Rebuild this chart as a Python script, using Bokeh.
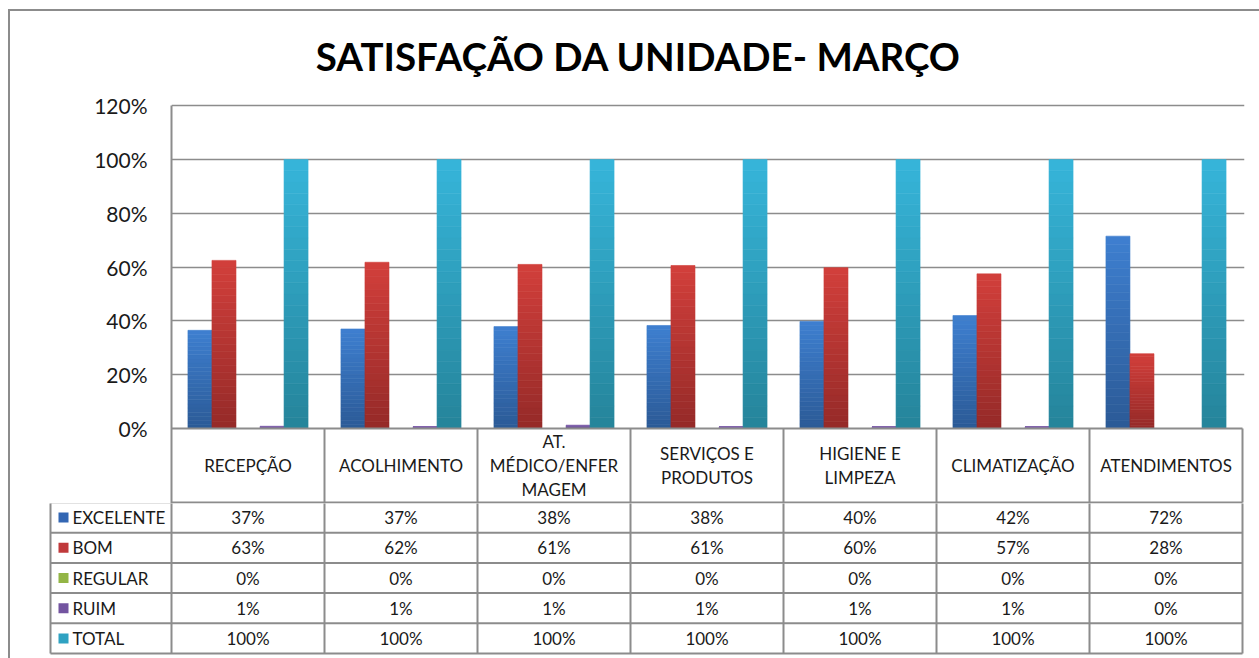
from bokeh.plotting import figure
from bokeh.layouts import column
from bokeh.models import Range1d, FixedTicker, NumeralTickFormatter, ColumnDataSource
from bokeh.embed import file_html
from bokeh.resources import INLINE
from bokeh.core.properties import value

# ---------------- data ----------------
title_text = "SATISFAÇÃO DA UNIDADE- MARÇO"
category_labels = ["RECEPÇÃO", "ACOLHIMENTO", "AT.\nMÉDICO/ENFER\nMAGEM", "SERVIÇOS E\nPRODUTOS",
                   "HIGIENE E\nLIMPEZA", "CLIMATIZAÇÃO", "ATENDIMENTOS"]
series_names = ["EXCELENTE", "BOM", "REGULAR", "RUIM", "TOTAL"]
excelente = [0.365, 0.370, 0.379, 0.383, 0.398, 0.420, 0.715]
bom = [0.625, 0.618, 0.610, 0.606, 0.598, 0.575, 0.278]
regular = [0.0, 0.0, 0.0, 0.0, 0.0, 0.0, 0.0]
ruim = [0.008, 0.007, 0.012, 0.006, 0.006, 0.006, 0.0]
total = [1.0, 1.0, 1.0, 1.0, 1.0, 1.0, 1.0]
table_excelente = ["37%", "37%", "38%", "38%", "40%", "42%", "72%"]
table_bom = ["63%", "62%", "61%", "61%", "60%", "57%", "28%"]
table_regular = ["0%", "0%", "0%", "0%", "0%", "0%", "0%"]
table_ruim = ["1%", "1%", "1%", "1%", "1%", "1%", "0%"]
table_total = ["100%", "100%", "100%", "100%", "100%", "100%", "100%"]
y_ticks = [0, 0.2, 0.4, 0.6, 0.8, 1.0, 1.2]

# ---------------- styles / layout constants ----------------
FONT = "Lato"
GRID = "#8c8c8c"
TXT = "#1a1a1a"
top_colors = ["#3e7fd0", "#d23f3b", "#9cc056", "#8465b0", "#36b5da"]
bottom_colors = ["#2b5a96", "#952a28", "#6f8f30", "#5c4080", "#25849a"]
swatch_colors = ["#3366b3", "#c0393b", "#93b546", "#7354a0", "#2fa2c2"]

PX = 269.0          # pixels per 100 %
CW = 153.0          # pixels per category
TOP0 = 11           # page y of the top of the layout content
ZERO = 428          # page y of 0 %
HEADER_H = 74
ROW_H = 30.2
LEGEND_W = 121 / CW
PAD = 2

series_values = [excelente, bom, regular, ruim, total]
table_texts = [table_excelente, table_bom, table_regular, table_ruim, table_total]
n_cat = len(category_labels)
n_rows = len(series_names)

def hex2rgb(h):
    return tuple(int(h[i:i + 2], 16) for i in (1, 3, 5))

def mix(c1, c2, t):
    a, b = hex2rgb(c1), hex2rgb(c2)
    return "#%02x%02x%02x" % tuple(round(a[k] + (b[k] - a[k]) * t) for k in range(3))

# ---------------- chart (with header row of the table) ----------------
p_bottom_px = ZERO + HEADER_H + 1
p_height = p_bottom_px - TOP0
y_top = (ZERO - TOP0) / PX
y_bot = -(p_bottom_px - ZERO) / PX
p = figure(width=1249, height=p_height, x_range=Range1d(0, n_cat + PAD / CW),
           y_range=Range1d(y_bot, y_top),
           output_backend="svg", toolbar_location=None, x_axis_location=None,
           min_border_left=161, min_border_right=15, min_border_top=0, min_border_bottom=0,
           frame_align=False)
p.outline_line_color = None
p.background_fill_color = "white"
p.border_fill_color = "white"
p.xgrid.visible = False
p.ygrid.ticker = FixedTicker(ticks=y_ticks[1:])
p.ygrid.grid_line_color = GRID
p.ygrid.grid_line_width = 1.5
p.ygrid.bounds = (0, n_cat)

ax = p.yaxis[0]
ax.ticker = FixedTicker(ticks=y_ticks)
ax.formatter = NumeralTickFormatter(format="0%")
ax.bounds = (y_bot, y_ticks[-1])
ax.axis_line_color = GRID
ax.axis_line_width = 2
ax.major_tick_line_color = None
ax.minor_tick_line_color = None
ax.major_tick_out = 0
ax.major_tick_in = 0
ax.major_label_standoff = 24
ax.major_label_text_font = FONT
ax.major_label_text_font_size = "21px"
ax.major_label_text_color = TXT

# title
p.text(x=[(638 - 171) / CW], y=[(ZERO - 55) / PX], text=[title_text], text_align="center",
       text_baseline="middle", text_font=value(FONT), text_font_size="38.5px",
       text_font_style="bold", text_color="#000000")

# bars with vertical gradient
bar_w = 0.157
N = 24
xs, bots, tops, cols = [], [], [], []
for j, vals in enumerate(series_values):
    for i, v in enumerate(vals):
        if v <= 0:
            continue
        xc = i + 0.5 + (j - 2) * bar_w
        for k in range(N):
            xs.append(xc)
            bots.append(v * k / N)
            tops.append(v * (k + 1) / N)
            cols.append(mix(bottom_colors[j], top_colors[j], (k + 0.5) / N))
src = ColumnDataSource(dict(x=xs, bottom=bots, top=tops, color=cols))
p.vbar(x="x", bottom="bottom", top="top", width=bar_w, fill_color="color",
       line_color="color", line_width=0.6, source=src)

# header row lines
hx0, hy0, hx1, hy1 = [], [], [], []
for i in range(1, n_cat + 1):
    hx0.append(i); hy0.append(0); hx1.append(i); hy1.append(-HEADER_H / PX)
hx0 += [0, 0]; hy0 += [0, -HEADER_H / PX]; hx1 += [n_cat, n_cat]; hy1 += [0, -HEADER_H / PX]
p.segment(x0=hx0, y0=hy0, x1=hx1, y1=hy1, line_color=GRID, line_width=2)

p.text(x=[i + 0.5 for i in range(n_cat)], y=[-(HEADER_H / 2) / PX] * n_cat, text=category_labels,
       text_align="center", text_baseline="middle", text_font=value(FONT),
       text_font_size="17px", text_color=TXT, text_line_height=1.15)

# ---------------- data table rows ----------------
t_frame_h = n_rows * ROW_H + PAD
t_height = 658 - p_bottom_px
t = figure(width=1249, height=t_height,
           x_range=Range1d(-LEGEND_W - PAD / CW, n_cat + PAD / CW),
           y_range=Range1d(HEADER_H + 1 + t_frame_h, HEADER_H + 1),
           output_backend="svg", toolbar_location=None, x_axis_location=None, y_axis_location=None,
           min_border_left=38, min_border_right=15, min_border_top=0,
           min_border_bottom=t_height - int(round(t_frame_h)), frame_align=False)
t.outline_line_color = None
t.grid.visible = False
t.border_fill_color = "white"
t.background_fill_color = "white"

sx0, sy0, sx1, sy1 = [], [], [], []
y_end = HEADER_H + n_rows * ROW_H
for i in range(n_cat + 1):
    sx0.append(i); sy0.append(HEADER_H); sx1.append(i); sy1.append(y_end)
sx0.append(-LEGEND_W); sy0.append(HEADER_H); sx1.append(-LEGEND_W); sy1.append(y_end)
for r in range(n_rows + 1):
    yy = HEADER_H + r * ROW_H
    sx0.append(-LEGEND_W); sy0.append(yy); sx1.append(n_cat); sy1.append(yy)
t.segment(x0=sx0, y0=sy0, x1=sx1, y1=sy1, line_color=GRID, line_width=2)

for r, name in enumerate(series_names):
    yc = HEADER_H + (r + 0.5) * ROW_H
    t.text(x=[i + 0.5 for i in range(n_cat)], y=[yc] * n_cat, text=table_texts[r],
           text_align="center", text_baseline="middle", text_font=value(FONT),
           text_font_size="17px", text_color=TXT)
    t.rect(x=[-LEGEND_W + 13 / CW], y=[yc], width=10, height=10,
           width_units="screen", height_units="screen",
           fill_color=swatch_colors[r], line_color=None)
    t.text(x=[-LEGEND_W + 22 / CW], y=[yc], text=[name], text_align="left",
           text_baseline="middle", text_font=value(FONT), text_font_size="17px",
           text_color=TXT)

layout = column(p, t, spacing=0, margin=(9, 0, 0, 8),
                styles={"border-left": "2px solid #8c8c8c", "border-top": "2px solid #8c8c8c"})

open("out.html", "w").write(file_html(layout, INLINE))
